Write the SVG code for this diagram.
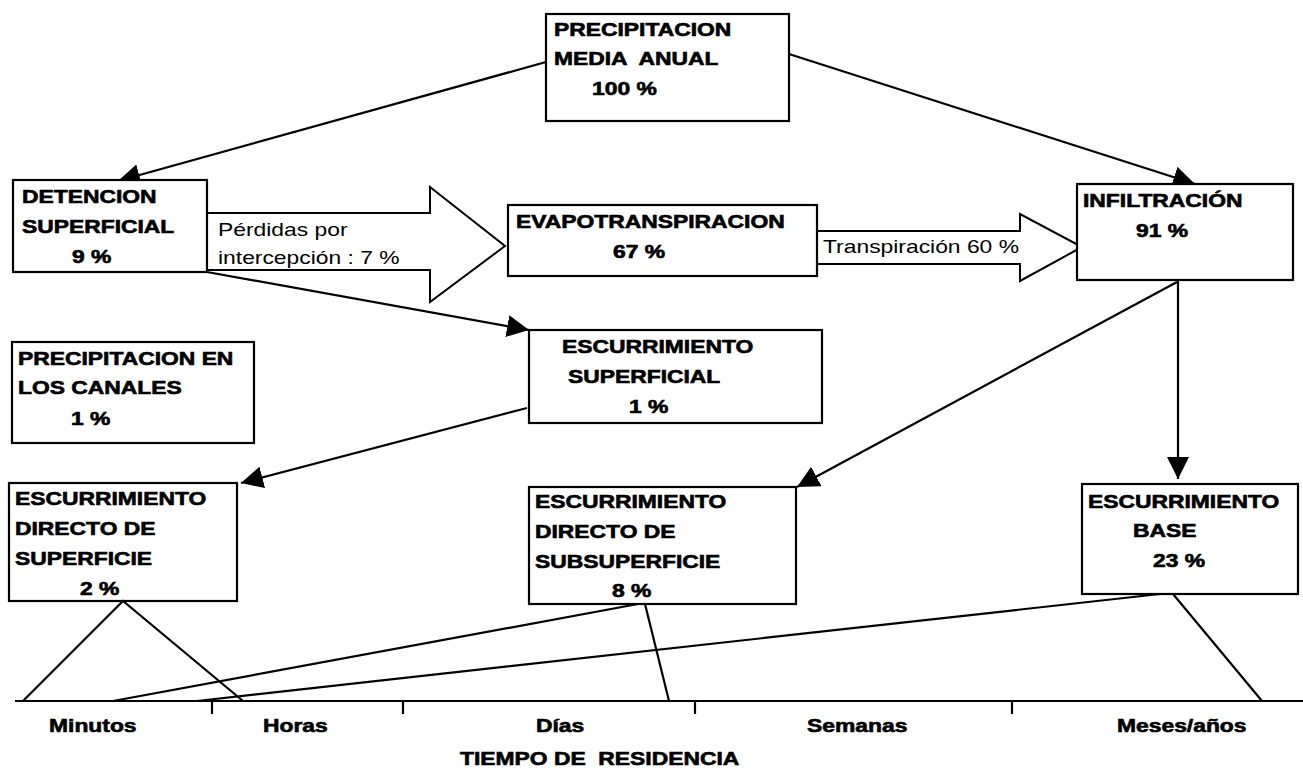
<svg xmlns="http://www.w3.org/2000/svg" width="1303" height="769" viewBox="0 0 1303 769">
  <style>
    .box { fill: #fff; stroke: #000; stroke-width: 2.2; }
    .big { fill: #fff; stroke: #000; stroke-width: 2; stroke-linejoin: miter; }
    .ln { stroke: #000; stroke-width: 2.2; fill: none; }
    .arr { marker-end: url(#head); }
    text { font-family: "Liberation Sans", Arial, sans-serif; font-size: 18px; fill: #000; white-space: pre; }
    .b { font-weight: bold; stroke: #000; stroke-width: 0.6; }
  </style>
  <defs>
    <marker id="head" markerUnits="userSpaceOnUse" markerWidth="24" markerHeight="24" refX="22" refY="11" orient="auto">
      <path d="M0,0 L22,11 L0,22 z" fill="#000"/>
    </marker>
  </defs>

  <rect width="1303" height="769" fill="#fff"/>

  <!-- connectors -->
  <g id="connectors">
    <line class="ln arr" x1="546" y1="62" x2="118" y2="181"/>
    <line class="ln arr" x1="789" y1="54" x2="1195" y2="184"/>
    <line class="ln arr" x1="207" y1="272" x2="529" y2="330"/>
    <line class="ln arr" x1="527" y1="408" x2="241" y2="483"/>
    <line class="ln arr" x1="1177" y1="282" x2="797" y2="487"/>
    <line class="ln arr" x1="1178" y1="280" x2="1178" y2="479"/>
  </g>

  <!-- block arrows -->
  <g id="perdidas">
    <polygon class="big" points="207,213 430,213 430,187 505,246 430,302 430,270 207,270"/>
    <text transform="translate(218 236) scale(1.27 1)">Pérdidas por</text>
    <text transform="translate(218 264) scale(1.27 1)">intercepción : 7 %</text>
  </g>
  <g id="transpiracion">
    <polygon class="big" points="817,231 1020,231 1020,214 1082,247 1020,281 1020,264 817,264"/>
    <text transform="translate(823 253) scale(1.27 1)">Transpiración 60 %</text>
  </g>

  <!-- nodes -->
  <g id="precipitacion">
    <rect class="box" x="546" y="14" width="243" height="107"/>
    <text class="b" transform="translate(554 36) scale(1.27 1)">PRECIPITACION</text>
    <text class="b" transform="translate(554 65) scale(1.27 1)">MEDIA  ANUAL</text>
    <text class="b" transform="translate(592 95) scale(1.27 1)">100 %</text>
  </g>
  <g id="detencion">
    <rect class="box" x="13" y="180" width="194" height="92"/>
    <text class="b" transform="translate(22 203) scale(1.27 1)">DETENCION</text>
    <text class="b" transform="translate(22 233) scale(1.27 1)">SUPERFICIAL</text>
    <text class="b" transform="translate(72 263) scale(1.27 1)">9 %</text>
  </g>
  <g id="evapotranspiracion">
    <rect class="box" x="508" y="205" width="309" height="71"/>
    <text class="b" transform="translate(516 228) scale(1.27 1)">EVAPOTRANSPIRACION</text>
    <text class="b" transform="translate(613 258) scale(1.27 1)">67 %</text>
  </g>
  <g id="infiltracion">
    <rect class="box" x="1077" y="184" width="216" height="96"/>
    <text class="b" transform="translate(1083 207) scale(1.27 1)">INFILTRACIÓN</text>
    <text class="b" transform="translate(1136 237) scale(1.27 1)">91 %</text>
  </g>
  <g id="canales">
    <rect class="box" x="12" y="342" width="242" height="101"/>
    <text class="b" transform="translate(18 365) scale(1.27 1)">PRECIPITACION EN</text>
    <text class="b" transform="translate(18 394) scale(1.27 1)">LOS CANALES</text>
    <text class="b" transform="translate(71 425) scale(1.27 1)">1 %</text>
  </g>
  <g id="escurrimiento-superficial">
    <rect class="box" x="529" y="330" width="293" height="93"/>
    <text class="b" transform="translate(562 353) scale(1.27 1)">ESCURRIMIENTO</text>
    <text class="b" transform="translate(568 383) scale(1.27 1)">SUPERFICIAL</text>
    <text class="b" transform="translate(629 413) scale(1.27 1)">1 %</text>
  </g>
  <g id="directo-superficie">
    <rect class="box" x="9" y="483" width="228" height="118"/>
    <text class="b" transform="translate(15 505) scale(1.27 1)">ESCURRIMIENTO</text>
    <text class="b" transform="translate(15 535) scale(1.27 1)">DIRECTO DE</text>
    <text class="b" transform="translate(15 565) scale(1.27 1)">SUPERFICIE</text>
    <text class="b" transform="translate(80 595) scale(1.27 1)">2 %</text>
  </g>
  <g id="directo-subsuperficie">
    <rect class="box" x="529" y="487" width="267" height="117"/>
    <text class="b" transform="translate(535 508) scale(1.27 1)">ESCURRIMIENTO</text>
    <text class="b" transform="translate(535 538) scale(1.27 1)">DIRECTO DE</text>
    <text class="b" transform="translate(535 568) scale(1.27 1)">SUBSUPERFICIE</text>
    <text class="b" transform="translate(612 597) scale(1.27 1)">8 %</text>
  </g>
  <g id="base">
    <rect class="box" x="1082" y="484" width="216" height="110"/>
    <text class="b" transform="translate(1088 508) scale(1.27 1)">ESCURRIMIENTO</text>
    <text class="b" transform="translate(1133 537) scale(1.27 1)">BASE</text>
    <text class="b" transform="translate(1153 567) scale(1.27 1)">23 %</text>
  </g>

  <!-- residence-time axis with distribution triangles -->
  <g id="tiempo">
    <line class="ln" x1="15" y1="701" x2="1303" y2="701"/>
    <line class="ln" x1="212" y1="701" x2="212" y2="714"/>
    <line class="ln" x1="403" y1="701" x2="403" y2="714"/>
    <line class="ln" x1="695" y1="701" x2="695" y2="714"/>
    <line class="ln" x1="1012" y1="701" x2="1012" y2="714"/>
    <polyline class="ln" points="23,701 123,601 243,701"/>
    <polyline class="ln" points="113,701 638,604"/>
    <polyline class="ln" points="645,604 669,701"/>
    <polyline class="ln" points="197,701 1160,594"/>
    <polyline class="ln" points="1173,594 1262,701"/>
    <text class="b" transform="translate(49 732) scale(1.27 1)">Minutos</text>
    <text class="b" transform="translate(263 732) scale(1.27 1)">Horas</text>
    <text class="b" transform="translate(536 732) scale(1.27 1)">Días</text>
    <text class="b" transform="translate(807 732) scale(1.27 1)">Semanas</text>
    <text class="b" transform="translate(1117 732) scale(1.27 1)">Meses/años</text>
    <text class="b" transform="translate(460 765) scale(1.27 1)">TIEMPO DE  RESIDENCIA</text>
  </g>
</svg>
